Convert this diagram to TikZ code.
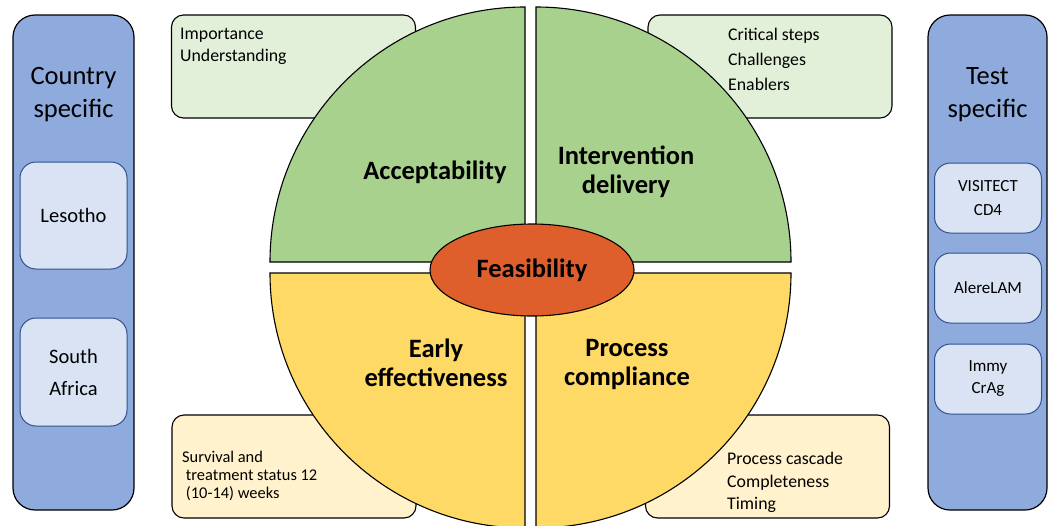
\documentclass[tikz,border=0pt]{standalone}
\usepackage{fontspec}
\setmainfont{Carlito}
\usetikzlibrary{shapes.geometric}
\definecolor{panelblue}{HTML}{8FAADC}
\definecolor{itemblue}{HTML}{DAE3F3}
\definecolor{itemedge}{HTML}{2F528F}
\definecolor{quadgreen}{HTML}{A9D18E}
\definecolor{quadyellow}{HTML}{FFD966}
\definecolor{notegreen}{HTML}{E2F0D9}
\definecolor{noteyellow}{HTML}{FFF2CC}
\definecolor{coreorange}{HTML}{DE5F2B}
\tikzset{
  panel/.style={draw=black, line width=1.2pt, fill=panelblue, rounded corners=22pt,
    minimum width=#1, minimum height=495pt, inner sep=0pt},
  item/.style={draw=itemedge, line width=1pt, fill=itemblue, rounded corners=16pt,
    minimum width=107pt, inner sep=0pt, align=center, font=\fontsize{20.5}{32}\selectfont},
  note/.style={draw=black, line width=1.1pt, rounded corners=12pt,
    minimum width=244pt, minimum height=103pt, inner sep=0pt},
  notetext/.style={anchor=north west, align=left, inner sep=0pt},
  title/.style={align=center, font=\fontsize{26.5}{33}\selectfont},
  quadlabel/.style={align=center, font=\bfseries\fontsize{26.5}{29}\selectfont},
  quad/.style={draw=black, line width=1.1pt},
}
\begin{document}
\begin{tikzpicture}[x=1pt, y=-1pt]
\useasboundingbox (0,0) rectangle (1054,525);

% side panels
\node[panel=121pt] (countrypanel) at (73.5,262.5) {};
\node[title] (countrytitle) at (73.5,95) {Country\\specific};
\node[item, minimum height=107pt] (lesotho) at (73.5,215.5) {Lesotho};
\node[item, minimum height=108pt] (southafrica) at (73.5,372) {South\\Africa};

\node[panel=119pt] (testpanel) at (987.5,262.5) {};
\node[title] (testtitle) at (987.5,95) {Test\\specific};
\node[item, minimum height=70pt, font=\fontsize{17}{24}\selectfont] (visitect) at (988,198) {VISITECT\\CD4};
\node[item, minimum height=70pt, font=\fontsize{17}{24}\selectfont] (alere) at (988,288) {AlereLAM};
\node[item, minimum height=70pt, font=\fontsize{17}{22}\selectfont] (immy) at (988,379) {Immy\\CrAg};

% notes behind the circle
\node[note, fill=notegreen] (noteaccept) at (293.5,66.5) {};
\node[note, fill=notegreen] (notedelivery) at (770,66.5) {};
\node[note, fill=noteyellow] (noteeffect) at (294,466.5) {};
\node[note, fill=noteyellow] (notecompliance) at (767.5,466.5) {};

\node[notetext, font=\fontsize{17.8}{22}\selectfont] (txtaccept) at (180,28) {Importance\\Understanding};
\node[notetext, font=\fontsize{17.8}{25}\selectfont] (txtdelivery) at (728,28) {Critical steps\\Challenges\\Enablers};
\node[notetext, font=\fontsize{16.4}{18}\selectfont] (txteffect) at (182,451) {Survival and\\\ treatment status 12\\\ (10-14) weeks};
\node[notetext, font=\fontsize{17.8}{22.5}\selectfont] (txtcompliance) at (727,452) {Process cascade\\Completeness\\Timing};

% four quadrants of the circle
\def\rad{255}
\draw[quad, fill=quadgreen] (525,262) -- (525-\rad,262) arc[start angle=180, end angle=270, radius=\rad] -- cycle;
\draw[quad, fill=quadgreen] (536,262) -- (536,262-\rad) arc[start angle=270, end angle=360, radius=\rad] -- cycle;
\draw[quad, fill=quadyellow] (525,273) -- (525,273+\rad) arc[start angle=90, end angle=180, radius=\rad] -- cycle;
\draw[quad, fill=quadyellow] (536,273) -- (536+\rad,273) arc[start angle=0, end angle=90, radius=\rad] -- cycle;

\node[quadlabel] (accept) at (435,172) {Acceptability};
\node[quadlabel] (delivery) at (626,172) {Intervention\\delivery};
\node[quadlabel] (effect) at (436,363) {Early\\effectiveness};
\node[quadlabel] (compliance) at (627,364) {Process\\compliance};

% centre
\node[ellipse, draw=black, line width=1.1pt, fill=coreorange, minimum width=204pt,
  minimum height=92pt, inner sep=0pt, font=\bfseries\fontsize{26.5}{30}\selectfont] (feasibility) at (532,270) {Feasibility};
\end{tikzpicture}
\end{document}
